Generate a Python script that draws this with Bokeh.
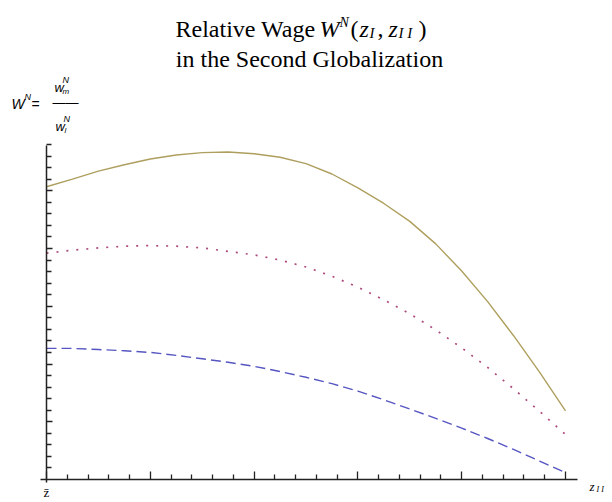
from bokeh.plotting import figure
from bokeh.models import Range1d, FixedTicker, Label
from bokeh.embed import file_html
from bokeh.resources import INLINE

# ---- data ----
z_vals = [0.00, 0.05, 0.10, 0.15, 0.20, 0.25, 0.30, 0.35, 0.40, 0.45, 0.50,
          0.55, 0.60, 0.65, 0.70, 0.75, 0.80, 0.85, 0.90, 0.95, 1.00]
w_solid = [0.507, 0.520, 0.534, 0.545, 0.555, 0.562, 0.566, 0.567, 0.564, 0.558, 0.547,
           0.529, 0.505, 0.478, 0.447, 0.408, 0.361, 0.308, 0.249, 0.186, 0.119]
w_dotted = [0.392, 0.397, 0.401, 0.404, 0.405, 0.404, 0.401, 0.395, 0.389, 0.380, 0.368,
            0.352, 0.333, 0.311, 0.287, 0.259, 0.228, 0.194, 0.157, 0.118, 0.078]
w_dashed = [0.227, 0.227, 0.225, 0.223, 0.220, 0.215, 0.209, 0.203, 0.196, 0.187, 0.177,
            0.166, 0.153, 0.138, 0.122, 0.106, 0.089, 0.071, 0.052, 0.032, 0.012]

x_major = [0.0, 0.2, 0.4, 0.6, 0.8, 1.0]
x_minor = [0.04, 0.08, 0.12, 0.16, 0.24, 0.28, 0.32, 0.36, 0.44, 0.48, 0.52, 0.56,
           0.64, 0.68, 0.72, 0.76, 0.84, 0.88, 0.92, 0.96]
y_major = [0.1, 0.2, 0.3, 0.4, 0.5]
y_minor = [0.02, 0.04, 0.06, 0.08, 0.12, 0.14, 0.16, 0.18, 0.22, 0.24, 0.26, 0.28,
           0.32, 0.34, 0.36, 0.38, 0.42, 0.44, 0.46, 0.48, 0.52, 0.54, 0.56, 0.58]
x_axis_bounds = (-0.012, 1.023)
y_axis_bounds = (-0.006, 0.578)

# page geometry: data (0,0) sits at pixel (46, 479); 519 px per x unit, 577.5 px per y unit
W, H = 612, 502
BL, BB = 2, 2          # small borders, the frame covers almost the whole canvas
OX, OY, SX, SY = 46.0, 479.0, 519.0, 577.5
x_rng = Range1d((BL - OX) / SX, (W - OX) / SX)
y_rng = Range1d((OY - (H - BB)) / SY, OY / SY)

p = figure(width=W, height=H, x_range=x_rng, y_range=y_rng,
           output_backend="svg", toolbar_location=None,
           min_border_left=BL, min_border_right=0, min_border_top=0, min_border_bottom=BB)
p.grid.visible = False
p.outline_line_color = None
p.background_fill_color = "white"
p.border_fill_color = "white"

AX = "#222222"
xa = p.xaxis[0]
xa.fixed_location = 0
xa.bounds = x_axis_bounds
xa.ticker = FixedTicker(ticks=x_major, minor_ticks=x_minor)
xa.major_tick_in, xa.major_tick_out = 8, 0
xa.minor_tick_in, xa.minor_tick_out = 5, 0
xa.axis_line_color = AX
xa.axis_line_width = 1.5
xa.major_tick_line_color = AX
xa.minor_tick_line_color = AX
xa.major_tick_line_width = 1.3
xa.minor_tick_line_width = 1.3
xa.major_label_overrides = {t: "" for t in x_major}
xa.major_label_text_font_size = "1px"
xa.major_label_standoff = 0

ya = p.yaxis[0]
ya.fixed_location = 0
ya.bounds = y_axis_bounds
ya.ticker = FixedTicker(ticks=y_major, minor_ticks=y_minor)
ya.major_tick_in, ya.major_tick_out = 6, 0
ya.minor_tick_in, ya.minor_tick_out = 5, 0
ya.axis_line_color = AX
ya.axis_line_width = 1.5
ya.major_tick_line_color = AX
ya.minor_tick_line_color = AX
ya.major_tick_line_width = 1.3
ya.minor_tick_line_width = 1.3
ya.major_label_overrides = {t: "" for t in y_major}
ya.major_label_text_font_size = "1px"
ya.major_label_standoff = 0

# curves
p.line(z_vals, w_solid, line_color="#ae9f5e", line_width=1.4)
p.line(z_vals, w_dotted, line_color="#ad4a7c", line_width=1.7, line_dash="2 8")
p.line(z_vals, w_dashed, line_color="#5656c2", line_width=1.4, line_dash="10 5")


def put(text, px, py, size, font="Liberation Serif", style="normal", align="left"):
    p.add_layout(Label(x=(px - OX) / SX, y=(OY - py) / SY, text=text,
                       text_font=font, text_font_size=f"{size}px", text_font_style=style,
                       text_align=align, text_baseline="alphabetic", text_color="black"))


# title
put("Relative Wage", 175, 28, 24)
put("W", 319, 28, 24, style="italic")
put("N", 339, 22, 14, style="italic")
put("(", 350, 28, 24)
put("z", 359, 28, 24, style="italic")
put("I", 369, 32, 15, style="italic")
put(",", 377, 28, 24)
put("z", 388, 28, 24, style="italic")
put("I I", 398, 32, 15, style="italic")
put(")", 418, 28, 24)
put("in the Second Globalization", 309, 58, 24, align="center")

# y label  W^N = w_m^N / w_l^N
SANS = "Liberation Sans"
put("W", 11, 103, 14, font=SANS, style="italic")
put("N", 24, 96, 9, font=SANS, style="italic")
put("=", 31, 103, 14, font=SANS)
put("\u2014\u2014", 52, 102, 13, font=SANS)
put("w", 54, 87, 13, font=SANS, style="italic")
put("N", 62, 79, 9, font=SANS, style="italic")
put("m", 62, 91, 8, font=SANS, style="italic")
put("w", 55, 126, 13, font=SANS, style="italic")
put("N", 63, 118, 9, font=SANS, style="italic")
put("l", 64, 130, 8, font=SANS, style="italic")

# axis end labels
put("z\u0304", 46, 492, 13, align="center")
put("z", 589, 486, 13, style="italic")
put("I I", 596, 489, 8, style="italic")

open("out.html", "w").write(file_html(p, INLINE))
